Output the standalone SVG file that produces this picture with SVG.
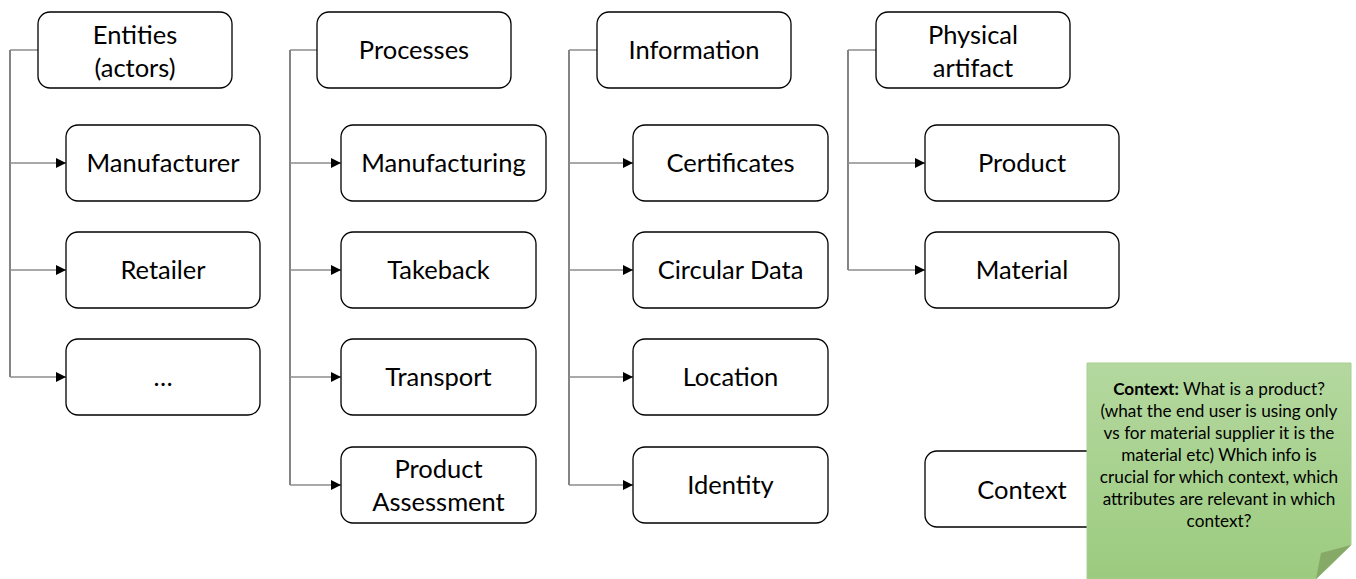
<svg xmlns="http://www.w3.org/2000/svg" width="1356" height="579" viewBox="0 0 1356 579">
  <defs>
    <marker id="arrow" viewBox="0 0 10 10" refX="10" refY="5" markerWidth="10" markerHeight="10" markerUnits="userSpaceOnUse" orient="auto">
      <path d="M0,0 L10,5 L0,10 z" fill="#000"/>
    </marker>
    <linearGradient id="noteFill" x1="0" y1="0" x2="0" y2="1">
      <stop offset="0" stop-color="#b4d89f"/>
      <stop offset="1" stop-color="#9ccb7f"/>
    </linearGradient>
    <style>
      .box { fill: #fff; stroke: #000; stroke-width: 1.3; }
      .lbl { font-family: Lato, "Open Sans", "Liberation Sans", sans-serif; font-size: 25.5px; fill: #000; text-anchor: middle; }
      .trunk { fill: none; stroke: #333; stroke-width: 1.2; }
      .branch { fill: none; stroke: #8c8c8c; stroke-width: 1.5; marker-end: url(#arrow); }
      .stub { fill: none; stroke: #8c8c8c; stroke-width: 1.5; }
      .note { font-family: Lato, "Open Sans", "Liberation Sans", sans-serif; font-size: 17.2px; fill: #000; text-anchor: middle; }
    </style>
  </defs>

  <!-- connectors: one trunk per column with arrows to each child -->
  <g id="connectors">
    <path class="trunk" d="M10,50 V377"/>
    <path class="stub" d="M10,50 H38"/>
    <path class="branch" d="M10,163 H66"/>
    <path class="branch" d="M10,270 H66"/>
    <path class="branch" d="M10,377 H66"/>

    <path class="trunk" d="M290,50 V485"/>
    <path class="stub" d="M290,50 H317"/>
    <path class="branch" d="M290,163 H341"/>
    <path class="branch" d="M290,270 H341"/>
    <path class="branch" d="M290,377 H341"/>
    <path class="branch" d="M290,485 H341"/>

    <path class="trunk" d="M569,50 V485"/>
    <path class="stub" d="M569,50 H597"/>
    <path class="branch" d="M569,163 H633"/>
    <path class="branch" d="M569,270 H633"/>
    <path class="branch" d="M569,377 H633"/>
    <path class="branch" d="M569,485 H633"/>

    <path class="trunk" d="M848,50 V270"/>
    <path class="stub" d="M848,50 H876"/>
    <path class="branch" d="M848,163 H925"/>
    <path class="branch" d="M848,270 H925"/>
  </g>

  <!-- column 1: entities -->
  <g id="entities">
    <rect class="box" x="38" y="12" width="194" height="76" rx="12"/>
    <text class="lbl" x="135" y="44">Entities</text>
    <text class="lbl" x="135" y="77">(actors)</text>
  </g>
  <g id="manufacturer">
    <rect class="box" x="66" y="125" width="194" height="76" rx="12"/>
    <text class="lbl" x="163" y="172">Manufacturer</text>
  </g>
  <g id="retailer">
    <rect class="box" x="66" y="232" width="194" height="76" rx="12"/>
    <text class="lbl" x="163" y="279">Retailer</text>
  </g>
  <g id="more-entities">
    <rect class="box" x="66" y="339" width="194" height="76" rx="12"/>
    <text class="lbl" x="163" y="386">…</text>
  </g>

  <!-- column 2: processes -->
  <g id="processes">
    <rect class="box" x="317" y="12" width="194" height="76" rx="12"/>
    <text class="lbl" x="414" y="59">Processes</text>
  </g>
  <g id="manufacturing">
    <rect class="box" x="341" y="125" width="205" height="76" rx="12"/>
    <text class="lbl" x="443.5" y="172">Manufacturing</text>
  </g>
  <g id="takeback">
    <rect class="box" x="341" y="232" width="195" height="76" rx="12"/>
    <text class="lbl" x="438.5" y="279">Takeback</text>
  </g>
  <g id="transport">
    <rect class="box" x="341" y="339" width="195" height="76" rx="12"/>
    <text class="lbl" x="438.5" y="386">Transport</text>
  </g>
  <g id="product-assessment">
    <rect class="box" x="341" y="447" width="195" height="76" rx="12"/>
    <text class="lbl" x="438.5" y="478">Product</text>
    <text class="lbl" x="438.5" y="511">Assessment</text>
  </g>

  <!-- column 3: information -->
  <g id="information">
    <rect class="box" x="597" y="12" width="194" height="76" rx="12"/>
    <text class="lbl" x="694" y="59">Information</text>
  </g>
  <g id="certificates">
    <rect class="box" x="633" y="125" width="195" height="76" rx="12"/>
    <text class="lbl" x="730.5" y="172">Certificates</text>
  </g>
  <g id="circular-data">
    <rect class="box" x="633" y="232" width="195" height="76" rx="12"/>
    <text class="lbl" x="730.5" y="279">Circular Data</text>
  </g>
  <g id="location">
    <rect class="box" x="633" y="339" width="195" height="76" rx="12"/>
    <text class="lbl" x="730.5" y="386">Location</text>
  </g>
  <g id="identity">
    <rect class="box" x="633" y="447" width="195" height="76" rx="12"/>
    <text class="lbl" x="730.5" y="494">Identity</text>
  </g>

  <!-- column 4: physical artifact -->
  <g id="physical-artifact">
    <rect class="box" x="876" y="12" width="194" height="76" rx="12"/>
    <text class="lbl" x="973" y="44">Physical</text>
    <text class="lbl" x="973" y="77">artifact</text>
  </g>
  <g id="product">
    <rect class="box" x="925" y="125" width="194" height="76" rx="12"/>
    <text class="lbl" x="1022" y="172">Product</text>
  </g>
  <g id="material">
    <rect class="box" x="925" y="232" width="194" height="76" rx="12"/>
    <text class="lbl" x="1022" y="279">Material</text>
  </g>

  <!-- context box, partly covered by the note -->
  <g id="context">
    <rect class="box" x="925" y="451" width="194" height="76" rx="12"/>
    <text class="lbl" x="1022" y="499">Context</text>
  </g>

  <!-- sticky note with folded corner -->
  <g id="context-note">
    <path d="M1087,363 H1351 V545 L1316,579 H1087 Z" fill="url(#noteFill)" stroke="#a8cf92" stroke-width="1"/>
    <path d="M1351,545 L1321,553 L1316,579 Z" fill="#86a967"/>
    <text class="note" x="1219" y="395"><tspan font-weight="bold">Context:</tspan> What is a product?</text>
    <text class="note" x="1219" y="417">(what the end user is using only</text>
    <text class="note" x="1219" y="439">vs for material supplier it is the</text>
    <text class="note" x="1219" y="461">material etc) Which info is</text>
    <text class="note" x="1219" y="483">crucial for which context, which</text>
    <text class="note" x="1219" y="505">attributes are relevant in which</text>
    <text class="note" x="1219" y="527">context?</text>
  </g>
</svg>
